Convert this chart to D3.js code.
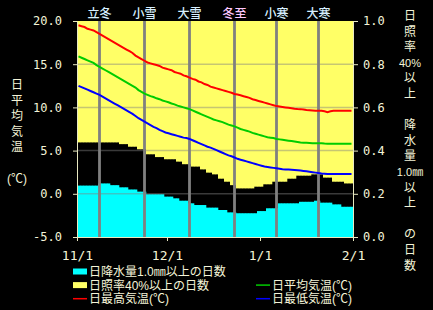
<!DOCTYPE html>
<html><head><meta charset="utf-8">
<script src="https://cdn.jsdelivr.net/npm/d3@7"></script>
<style>body{margin:0;background:#000;overflow:hidden}</style>
</head><body><svg id="c" width="433" height="310"></svg>
<script>
// ---- data (daily, 11/1 .. 1/31) ----
const precipRatio = [
0.238,0.238,0.238,0.238,0.238,0.238,0.238,
0.248,0.248,0.248,0.248,
0.24,0.24,0.24,
0.23,0.23,0.23,
0.22,0.22,0.22,
0.21,0.21,0.21,
0.198,0.198,0.198,0.198,0.198,0.198,
0.187,0.187,0.187,
0.179,0.179,
0.168,0.168,0.168,
0.156,0.156,
0.148,0.148,0.148,0.148,
0.136,0.136,0.136,0.136,
0.125,0.125,0.125,
0.114,0.114,0.114,
0.11,0.11,0.11,0.11,0.11,0.11,0.11,
0.12,0.12,0.12,
0.133,0.133,0.133,0.133,
0.156,0.156,0.156,0.156,0.156,0.156,0.156,
0.163,0.163,0.163,0.163,0.163,
0.168,0.168,
0.159,0.159,0.159,0.159,
0.151,0.151,0.151,
0.14,0.14,0.14,0.14];
const sunRatio = [
0.562,0.562,0.562,0.562,0.562,0.562,0.562,0.562,0.562,0.562,0.562,0.562,0.562,0.562,
0.57,0.57,0.57,
0.582,0.582,0.582,
0.594,0.594,0.594,
0.617,0.617,0.617,
0.63,0.63,0.63,
0.64,0.64,0.64,0.64,
0.651,0.651,
0.663,0.663,0.663,
0.674,0.674,0.674,
0.687,0.687,
0.702,0.702,
0.71,0.71,
0.73,0.73,
0.744,0.744,
0.76,0.76,
0.775,0.775,0.775,0.775,0.775,0.775,
0.767,0.767,0.767,
0.756,0.756,0.756,
0.744,0.744,0.744,0.744,0.744,
0.73,0.73,0.73,
0.716,0.716,0.716,0.716,0.716,
0.71,0.71,0.71,0.71,
0.725,0.725,0.725,
0.744,0.744,0.744,0.744,
0.752,0.752,0.752];
const tMax = [
19.5,19.4,19.3,19.1,19.0,18.9,18.7,18.5,18.3,18.1,
17.9,17.7,17.5,17.3,17.1,16.9,16.7,16.5,16.3,16.0,
15.8,15.6,15.4,15.2,15.1,15.0,14.9,14.8,14.6,14.5,
14.4,14.3,14.1,14.0,13.9,13.7,13.6,13.45,13.3,13.2,
13.0,12.9,12.7,12.6,12.4,12.3,12.2,12.1,12.0,11.9,
11.8,11.7,11.55,11.5,11.4,11.3,11.2,11.1,10.95,10.85,
10.75,10.65,10.55,10.45,10.35,10.25,10.15,10.1,10.05,10.0,
9.95,9.9,9.85,9.82,9.8,9.75,9.7,9.68,9.65,9.62,
9.6,9.6,9.55,9.45,9.55,9.6,9.6,9.6,9.6,9.6,
9.6,9.6];
const tMean = [
15.9,15.75,15.6,15.45,15.3,15.15,14.9,14.7,14.5,14.3,
14.1,13.9,13.7,13.5,13.3,13.1,12.9,12.7,12.5,12.3,
12.0,11.8,11.6,11.45,11.3,11.2,11.05,10.95,10.8,10.7,
10.6,10.45,10.35,10.2,10.1,10.0,9.9,9.8,9.65,9.5,
9.35,9.2,9.05,8.9,8.75,8.6,8.5,8.4,8.3,8.15,
8.0,7.9,7.8,7.65,7.5,7.4,7.3,7.2,7.05,6.95,
6.85,6.75,6.65,6.55,6.5,6.45,6.35,6.3,6.25,6.2,
6.15,6.1,6.05,6.0,5.95,5.92,5.9,5.88,5.86,5.85,
5.85,5.85,5.82,5.8,5.8,5.8,5.8,5.8,5.8,5.8,
5.8,5.8];
const tMin = [
12.5,12.35,12.2,12.05,11.9,11.75,11.6,11.45,11.25,11.05,
10.85,10.65,10.45,10.25,10.05,9.85,9.65,9.45,9.25,9.0,
8.75,8.55,8.35,8.15,7.95,7.75,7.6,7.4,7.25,7.1,
7.0,6.9,6.8,6.7,6.6,6.5,6.45,6.35,6.2,6.05,
5.9,5.75,5.6,5.45,5.35,5.2,5.05,4.9,4.75,4.6,
4.45,4.35,4.2,4.05,3.95,3.85,3.75,3.65,3.55,3.45,
3.35,3.25,3.15,3.1,3.05,3.0,2.95,2.9,2.85,2.82,
2.8,2.78,2.76,2.73,2.7,2.65,2.6,2.55,2.5,2.45,
2.4,2.36,2.33,2.3,2.3,2.3,2.3,2.3,2.3,2.3,
2.3,2.3];
const xTickDays = [0, 30, 61, 92];
const xTickLabels = ["11/1", "12/1", "1/1", "2/1"];
const tempTicks = [-5, 0, 5, 10, 15, 20];
const ratioTicks = [0, 0.2, 0.4, 0.6, 0.8, 1.0];
const sekkiNames = ["立冬", "小雪", "大雪", "冬至", "小寒", "大寒"];
const sekkiDays = [7, 22, 37, 52, 66, 80];
const sekkiColors = ["#d8f0ff", "#d8f0ff", "#d8f0ff", "#ffc8ff", "#d8f0ff", "#d8f0ff"];
const leftTitle = ["日", "平", "均", "気", "温", "", "(℃)"];
const rightTitle = ["日", "照", "率", "40%", "以", "上", "", "降", "水", "量", "1.0㎜", "以", "上", "", "の", "日", "数"];

// ---- layout ----
const L = 77, R = 353, T = 21, B = 237;
const txt = "#f4f4d8", axisCol = "#e8e8c0";
const jp = "'Liberation Sans', 'Noto Sans CJK JP', sans-serif";
const mono = "'DejaVu Sans Mono', monospace";

const svg = d3.select("#c");
svg.append("rect").attr("width", 433).attr("height", 310).attr("fill", "#000");

const x = d3.scaleLinear().domain([0, 92]).range([L, R]);
const yT = d3.scaleLinear().domain([-5, 20]).range([B, T]);
const yR = d3.scaleLinear().domain([0, 1]).range([B, T]);
const days = d3.range(92);

const g = svg.append("g");
// sunshine (yellow, hanging from top)
g.selectAll("rect.sun").data(days).join("rect").attr("class", "sun")
  .attr("x", d => x(d)).attr("width", d => x(d + 1) - x(d) + 0.3)
  .attr("y", yR(1)).attr("height", d => yR(1 - sunRatio[d]) - yR(1))
  .attr("fill", "#ffff66");
// precipitation (cyan, from bottom)
g.selectAll("rect.pr").data(days).join("rect").attr("class", "pr")
  .attr("x", d => x(d)).attr("width", d => x(d + 1) - x(d) + 0.3)
  .attr("y", d => yR(precipRatio[d])).attr("height", d => yR(0) - yR(precipRatio[d]))
  .attr("fill", "#00ffff");

// gridlines
g.selectAll("line.grid").data(tempTicks.slice(1, -1)).join("line").attr("class", "grid")
  .attr("x1", L).attr("x2", R).attr("y1", d => yT(d)).attr("y2", d => yT(d))
  .attr("stroke", "#808080").attr("stroke-opacity", 0.45).attr("stroke-width", 1.5);

// sekki bars
g.selectAll("rect.sekki").data(sekkiDays).join("rect").attr("class", "sekki")
  .attr("x", d => x(d + 0.5) - 1.4).attr("width", 2.8)
  .attr("y", T).attr("height", B - T).attr("fill", "#808080");
svg.selectAll("text.sekki").data(sekkiDays).join("text").attr("class", "sekki")
  .attr("x", d => x(d + 0.5)).attr("y", 18).attr("text-anchor", "middle")
  .attr("font-family", jp).attr("font-size", 12).attr("font-weight", 500)
  .attr("fill", (d, i) => sekkiColors[i]).text((d, i) => sekkiNames[i]);

// temperature lines
const line = arr => d3.line().x((v, i) => x(i + 0.5)).y(v => yT(v))(arr);
[[tMax, "#ff0000"], [tMean, "#00cc00"], [tMin, "#0000ff"]].forEach(([arr, c]) => {
  svg.append("path").attr("d", line(arr)).attr("fill", "none").attr("stroke", c).attr("stroke-width", 2);
});

// axes
function styleAxis(sel) {
  sel.selectAll(".domain").attr("stroke", axisCol).attr("stroke-width", 1);
  sel.selectAll(".tick line").attr("stroke", axisCol);
  sel.selectAll("text").attr("fill", txt).attr("font-family", mono).attr("font-size", 12);
}
const ax1 = svg.append("g").attr("transform", `translate(${L},0)`)
  .call(d3.axisLeft(yT).tickValues(tempTicks).tickFormat(d => d.toFixed(1)).tickSize(4).tickPadding(11).tickSizeOuter(0));
styleAxis(ax1);
const ax2 = svg.append("g").attr("transform", `translate(${R},0)`)
  .call(d3.axisRight(yR).tickValues(ratioTicks).tickFormat(d => d.toFixed(1)).tickSize(5).tickPadding(5).tickSizeOuter(0));
styleAxis(ax2);
const ax3 = svg.append("g").attr("transform", `translate(0,${B})`)
  .call(d3.axisBottom(x).tickValues(xTickDays).tickFormat((d, i) => xTickLabels[i]).tickSize(4).tickPadding(10).tickSizeOuter(0));
styleAxis(ax3);
ax3.selectAll("text").attr("font-size", 13);

// axis titles (vertical)
svg.selectAll("text.lt").data(leftTitle).join("text").attr("class", "lt")
  .attr("x", 17).attr("y", (d, i) => 89 + i * 15.6).attr("text-anchor", "middle")
  .attr("font-family", jp).attr("font-size", 12).attr("fill", txt).text(d => d);
svg.selectAll("text.rt").data(rightTitle).join("text").attr("class", "rt")
  .attr("x", 410).attr("y", (d, i) => 20 + i * 15.6).attr("text-anchor", "middle")
  .attr("font-family", jp).attr("font-size", d => d.length > 2 ? 11 : 12).attr("fill", txt).text(d => d);

// legend
const legend = [
  {t: "日降水量1.0㎜以上の日数", c: "#00ffff", k: "rect", col: 0, row: 0},
  {t: "日照率40%以上の日数", c: "#ffff66", k: "rect", col: 0, row: 1},
  {t: "日平均気温(℃)", c: "#00cc00", k: "line", col: 1, row: 1},
  {t: "日最高気温(℃)", c: "#ff0000", k: "line", col: 0, row: 2},
  {t: "日最低気温(℃)", c: "#0000ff", k: "line", col: 1, row: 2}
];
const lg = svg.append("g");
legend.forEach(it => {
  const lx = it.col === 0 ? 73 : 256, ly = 271.5 + it.row * 13.6;
  if (it.k === "rect") lg.append("rect").attr("x", lx).attr("y", ly - 3).attr("width", 14).attr("height", 6).attr("fill", it.c);
  else lg.append("line").attr("x1", lx).attr("x2", lx + 14).attr("y1", ly).attr("y2", ly).attr("stroke", it.c).attr("stroke-width", 1.5);
  lg.append("text").attr("x", lx + 16).attr("y", ly + 4.5).attr("font-family", jp).attr("font-size", 12)
    .attr("fill", txt).text(it.t);
});
</script></body></html>
